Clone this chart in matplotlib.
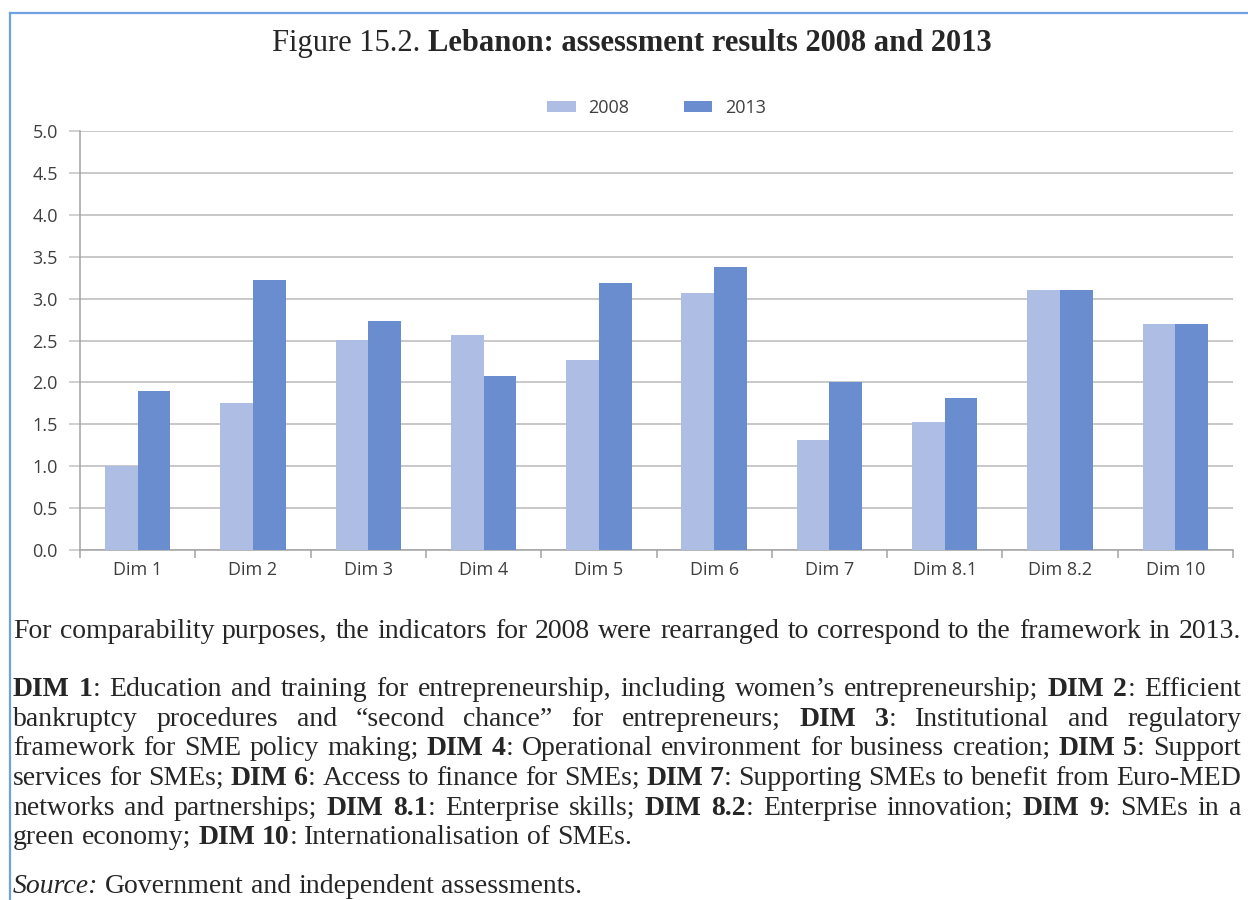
import matplotlib
matplotlib.use('Agg')
import matplotlib.pyplot as plt
import numpy as np
from matplotlib.transforms import IdentityTransform
from matplotlib.lines import Line2D

# ---------------- data ----------------
categories = ['Dim 1', 'Dim 2', 'Dim 3', 'Dim 4', 'Dim 5', 'Dim 6', 'Dim 7',
              'Dim 8.1', 'Dim 8.2', 'Dim 10']
values_2008 = [1.00, 1.75, 2.51, 2.57, 2.27, 3.07, 1.31, 1.53, 3.10, 2.70]
values_2013 = [1.90, 3.22, 2.73, 2.08, 3.19, 3.38, 2.00, 1.81, 3.10, 2.70]
series_labels = ['2008', '2013']
y_ticks = [0.0, 0.5, 1.0, 1.5, 2.0, 2.5, 3.0, 3.5, 4.0, 4.5, 5.0]

title_regular = 'Figure 15.2.'
title_bold = 'Lebanon: assessment results 2008 and 2013'

note_lines = [
    "For comparability purposes, the indicators for 2008 were rearranged to correspond to the framework in 2013.",
]
dim_lines = [
    "**DIM 1**: Education and training for entrepreneurship, including women\u2019s entrepreneurship; **DIM 2**: Efficient",
    "bankruptcy procedures and \u201csecond chance\u201d for entrepreneurs; **DIM 3**: Institutional and regulatory",
    "framework for SME policy making; **DIM 4**: Operational environment for business creation; **DIM 5**: Support",
    "services for SMEs; **DIM 6**: Access to finance for SMEs; **DIM 7**: Supporting SMEs to benefit from Euro-MED",
    "networks and partnerships; **DIM 8.1**: Enterprise skills; **DIM 8.2**: Enterprise innovation; **DIM 9**: SMEs in a",
    "green economy; **DIM 10**: Internationalisation of SMEs.",
]
source_line = "//Source:// Government and independent assessments."

# ---------------- style ----------------
W, H = 1248, 900
C08 = '#adbde4'
C13 = '#6a8dd0'
GRID = '#c4c4c4'
AXC = '#a3a3a3'
TICKC = '#3f3f3f'
TXT = '#262626'
SANS = 'Open Sans'
SERIF = 'Liberation Serif'
TFS = 13

fig = plt.figure(figsize=(W / 100, H / 100), dpi=100)
fig.patch.set_facecolor('white')

# chart axes (pixel geometry from reference)
left, right, top, bottom = 80, 1233, 131, 550
ax = fig.add_axes([left / W, 1 - bottom / H, (right - left) / W, (bottom - top) / H])
x = np.arange(len(categories))
bw = 0.284
ax.bar(x - bw / 2, values_2008, bw, color=C08, label=series_labels[0], zorder=3)
ax.bar(x + bw / 2, values_2013, bw, color=C13, label=series_labels[1], zorder=3)
ax.set_xlim(-0.5, len(categories) - 0.5)
ax.set_ylim(0, 5)
ax.set_yticks(y_ticks)
ax.set_yticklabels([f'{v:.1f}' for v in y_ticks], fontfamily=SANS, fontsize=TFS, color=TICKC)
ax.yaxis.grid(True, color=GRID, lw=1.3)
ax.set_axisbelow(True)
for s in ['top', 'right']:
    ax.spines[s].set_visible(False)
for s in ['left', 'bottom']:
    ax.spines[s].set_color(AXC)
    ax.spines[s].set_linewidth(1.1)
ax.tick_params(axis='y', length=8, width=1.1, color=GRID, pad=8)
ax.set_xticks(np.arange(-0.5, len(categories), 1.0))
ax.set_xticklabels([])
ax.tick_params(axis='x', which='major', length=6, width=1.1, color=AXC)
ax.set_xticks(x, minor=True)
ax.set_xticklabels(categories, minor=True, fontfamily=SANS, fontsize=TFS, color=TICKC)
ax.tick_params(axis='x', which='minor', length=0, pad=8)

leg = ax.legend(loc='center', bbox_to_anchor=(0.5, (bottom - 108) / (bottom - top)),
                ncol=2, frameon=False, handlelength=1.6, handleheight=0.55,
                handletextpad=0.7, columnspacing=3.0,
                prop={'family': SANS, 'size': TFS})
for t in leg.get_texts():
    t.set_color(TICKC)

# ---------------- text helpers ----------------
fig.canvas.draw()
renderer = fig.canvas.get_renderer()
ID = IdentityTransform()


def style_kw(st, size):
    kw = dict(family=SERIF, fontsize=size, color=TXT)
    if st == 'b':
        kw['fontweight'] = 'bold'
    elif st == 'i':
        kw['fontstyle'] = 'italic'
    return kw


def measure(s, st, size):
    t = fig.text(0, 0, s, transform=ID, **style_kw(st, size))
    w = t.get_window_extent(renderer).width
    t.remove()
    return w


def parse(line):
    # '**' toggles bold, '//' toggles italic; returns words, each a list of (text, style)
    runs = []
    st = 'n'
    i = 0
    buf = ''
    while i < len(line):
        if line.startswith('**', i):
            if buf:
                runs.append((buf, st)); buf = ''
            st = 'n' if st == 'b' else 'b'
            i += 2
        elif line.startswith('//', i):
            if buf:
                runs.append((buf, st)); buf = ''
            st = 'n' if st == 'i' else 'i'
            i += 2
        else:
            buf += line[i]
            i += 1
    if buf:
        runs.append((buf, st))
    words = [[]]
    for text, st in runs:
        parts = text.split(' ')
        for k, p in enumerate(parts):
            if k > 0:
                words.append([])
            if p:
                words[-1].append((p, st))
    return [w for w in words if w]


def space_width(size):
    return measure('x x', 'n', size) - measure('xx', 'n', size)


def draw_line(line, y_top, x0, x1, size, justify):
    words = parse(line)
    widths = [[measure(s, st, size) for s, st in w] for w in words]
    totals = [sum(ws) for ws in widths]
    if justify and len(words) > 1:
        gap = (x1 - x0 - sum(totals)) / (len(words) - 1)
    else:
        gap = space_width(size)
    xp = x0
    yp = H - y_top
    n = len(words)
    for k, (w, ws) in enumerate(zip(words, widths)):
        if justify and k == n - 1:
            # right-align the last word exactly on the margin
            xr = x1
            for (s, st), wd in reversed(list(zip(w, ws))):
                fig.text(xr, yp, s, transform=ID, va='baseline', ha='right', **style_kw(st, size))
                xr -= wd
            break
        for (s, st), wd in zip(w, ws):
            fig.text(xp, yp, s, transform=ID, va='baseline', ha='left', **style_kw(st, size))
            xp += wd
        xp += gap


def natural_width(line, size):
    words = parse(line)
    return sum(measure(s, st, size) for w in words for s, st in w) + space_width(size) * (len(words) - 1)


# ---------------- title ----------------
ts0 = 16
tw = measure(title_regular, 'n', ts0) + space_width(ts0) + measure(title_bold, 'b', ts0)
ts = ts0 * 721 / tw
sp = space_width(ts)
w1 = measure(title_regular, 'n', ts)
w2 = measure(title_bold, 'b', ts)
tx0 = 632 - (w1 + sp + w2) / 2
fig.text(tx0, H - 51, title_regular, transform=ID, va='baseline', ha='left',
         family=SERIF, fontsize=ts, color=TXT)
fig.text(tx0 + w1 + sp, H - 51, title_bold, transform=ID, va='baseline', ha='left',
         family=SERIF, fontsize=ts, color=TXT, fontweight='bold')

# ---------------- notes ----------------
ps0 = 15
XL, XR = 13, 1241
nw = natural_width(note_lines[0], ps0)
ps = ps0 * (XR - XL) / nw * 0.99
draw_line(note_lines[0], 638, XL, XR, ps, True)
base = 696
for k, ln in enumerate(dim_lines):
    draw_line(ln, base + 29.7 * k, XL, XR, ps, k < len(dim_lines) - 1)
draw_line(source_line, 893, XL, XR, ps, False)

# ---------------- border ----------------
BC = '#6fa0e0'
fig.add_artist(Line2D([10, W], [H - 13, H - 13], transform=ID, color=BC, lw=1.6))
fig.add_artist(Line2D([10, 10], [0, H - 13], transform=ID, color=BC, lw=1.6))

fig.savefig('out.png', dpi=100)
